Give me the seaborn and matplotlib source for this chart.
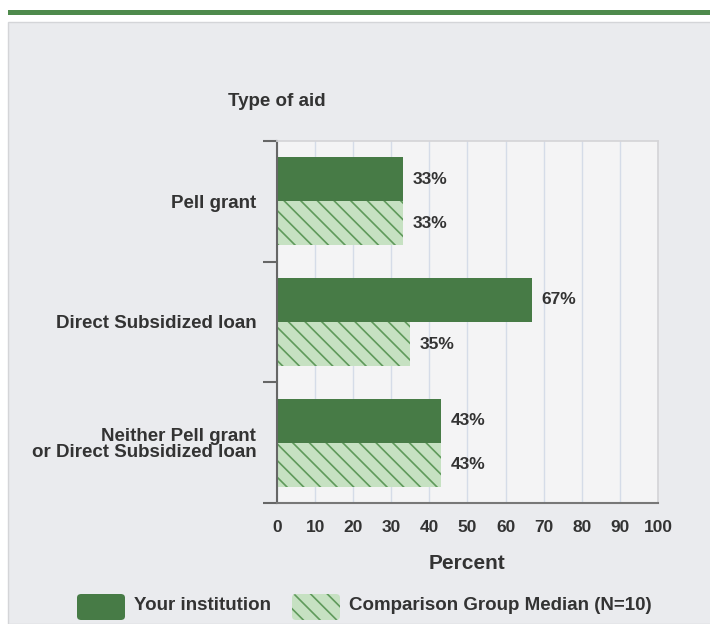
import numpy as np
import pandas as pd
import seaborn as sns
import matplotlib.pyplot as plt
from matplotlib.patches import Rectangle, FancyBboxPatch

categories = ["Pell grant", "Direct Subsidized loan", "Neither Pell grant\nor Direct Subsidized loan"]
series = ["Your institution", "Comparison Group Median (N=10)"]
your_vals = [33, 67, 43]
comp_vals = [33, 35, 43]
x_ticks = [0, 10, 20, 30, 40, 50, 60, 70, 80, 90, 100]

DARK = "#477B46"
LIGHT = "#C6E1C2"
HATCH = "#5F9A5B"
TXT = "#333333"
HP = "\\\\"

df = pd.DataFrame({
    "aid": categories * 2,
    "group": [series[0]] * 3 + [series[1]] * 3,
    "pct": your_vals + comp_vals,
})

sns.set_theme(style="white")
plt.rcParams["font.family"] = ["Liberation Sans", "DejaVu Sans"]
plt.rcParams["hatch.linewidth"] = 1.2
plt.rcParams["hatch.color"] = HATCH

W, H = 710, 624
fig = plt.figure(figsize=(7.1, 6.24), dpi=100)
fig.patch.set_facecolor("white")

# outer panel and top green rule
fig.patches.append(Rectangle((8 / W, 0), 1, (H - 22) / H, transform=fig.transFigure,
                             facecolor="#EAEBEE", edgecolor="#D4D5D8", lw=1, zorder=-10))
fig.patches.append(Rectangle((8 / W, (H - 15) / H), 1, 5 / H, transform=fig.transFigure,
                             facecolor="#4E8A4C", edgecolor="none", zorder=-10))

ax = fig.add_axes([277 / W, (H - 503) / H, (658 - 277) / W, (503 - 141) / H])
ax.set_zorder(5)
ax.set_facecolor("#F4F4F5")

sns.barplot(data=df, y="aid", x="pct", hue="group", orient="h", ax=ax,
            palette=[DARK, LIGHT], width=0.73, saturation=1, legend=False)

n = len(categories)
for i, bar in enumerate(ax.patches[:2 * n]):
    bar.set_edgecolor("none")
    if i >= n:
        bar.set_hatch(HP)
        bar.set_edgecolor(HATCH)
        bar.set_linewidth(0)
    w = bar.get_width()
    ax.text(w + 2.5, bar.get_y() + bar.get_height() / 2, f"{int(w)}%",
            va="center", ha="left", fontsize=12.5, fontweight="bold", color=TXT)

ax.set_xlim(0, 100)
ax.set_ylim(n - 0.5, -0.5)
ax.set_xticks(x_ticks)
ax.set_xticklabels([str(t) for t in x_ticks], fontsize=12.5, fontweight="bold", color=TXT)
ax.xaxis.grid(True, color="#D5DCE8", lw=1)
ax.set_axisbelow(True)

ax.set_yticks(range(n))
ax.set_yticklabels(categories, fontsize=13.5, fontweight="bold", color=TXT, linespacing=0.95)
ax.set_yticks([i - 0.5 for i in range(n + 1)], minor=True)
ax.tick_params(axis="y", which="major", left=False, length=0, pad=15)
ax.tick_params(axis="y", which="minor", left=True, length=10, width=1.5,
               color="#666666", direction="out")
ax.tick_params(axis="x", length=0, pad=12)

for s in ["top", "right"]:
    ax.spines[s].set_color("#D5D5D8")
ax.spines["left"].set_color("#666666")
ax.spines["left"].set_linewidth(1.5)
ax.spines["bottom"].set_color("#777777")
ax.spines["bottom"].set_linewidth(1.5)

ax.set_xlabel("Percent", fontsize=15, fontweight="bold", color=TXT, labelpad=14)
ax.set_ylabel("")

fig.text(277 / W, (H - 101) / H, "Type of aid", ha="center", va="center",
         fontsize=13.5, fontweight="bold", color=TXT)

# legend
lx = [77, 292]
for i, name in enumerate(series):
    kw = dict(facecolor=DARK, edgecolor="none") if i == 0 else \
        dict(facecolor=LIGHT, edgecolor=HATCH, hatch=HP, lw=0)
    p = FancyBboxPatch((lx[i] / W, (H - 620) / H), 48 / W, 26 / H,
                       boxstyle="round,pad=0,rounding_size=0.006",
                       transform=fig.transFigure, **kw)
    fig.patches.append(p)
    fig.text((lx[i] + 57) / W, (H - 606) / H, name, ha="left", va="center",
             fontsize=13.5, fontweight="bold", color=TXT)

fig.savefig("out.png", dpi=100)
